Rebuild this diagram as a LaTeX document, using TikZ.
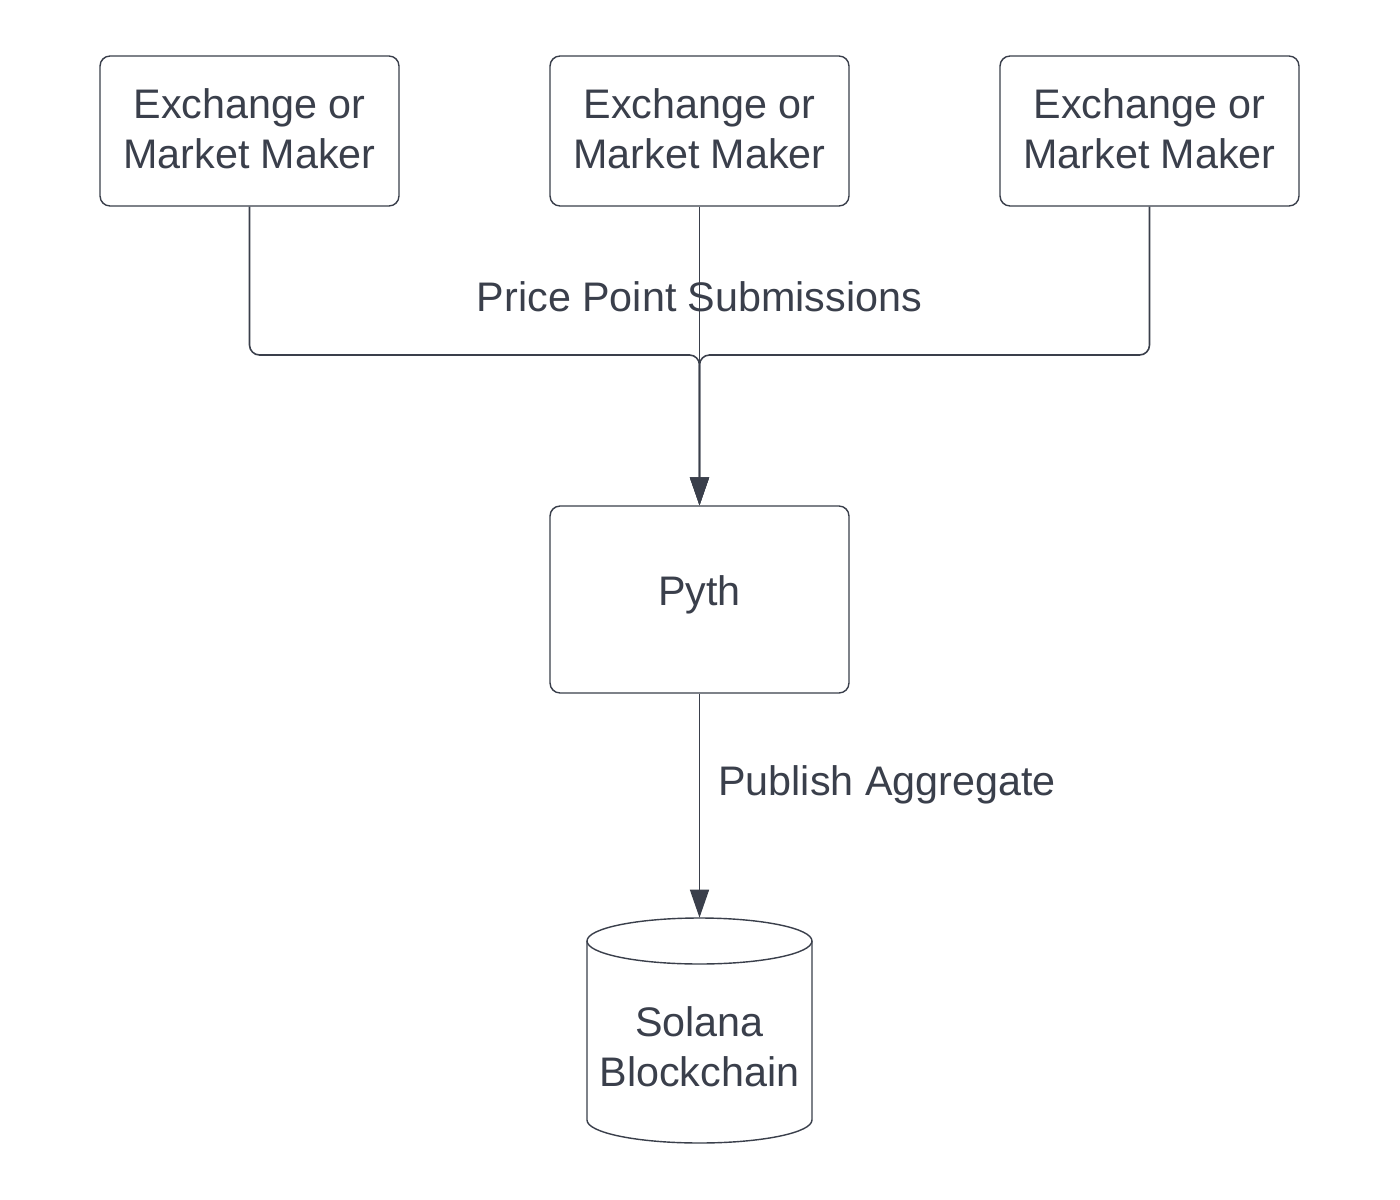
\documentclass[tikz,border=0pt]{standalone}
\usepackage{fontspec}
\setmainfont{Liberation Sans}
\usetikzlibrary{arrows.meta}
\definecolor{ink}{HTML}{3A3F4B}
\begin{document}
\begin{tikzpicture}[x=0.02cm,y=0.02cm,
  txt/.style={text=ink, font=\fontsize{23.5}{28.4}\selectfont, align=center, inner sep=0pt},
  box/.style={draw=ink, line width=0.8pt, rounded corners=0.2cm, minimum width=5.98cm},
  conn/.style={draw=ink, line width=0.9pt, rounded corners=0.2cm},
  tip/.style={-{Triangle[width=0.38cm,length=0.56cm]}}]
\useasboundingbox (0,0) rectangle (1400,-1200);
\fill[white] (0,0) rectangle (1400,-1200);
% boxes
\node[box, minimum height=3cm] (e1) at (249.5,-131) {};
\node[box, minimum height=3cm] (e2) at (699.5,-131) {};
\node[box, minimum height=3cm] (e3) at (1149.5,-131) {};
\node[box, minimum height=3.74cm] (pyth) at (699.5,-599.5) {};
\node[txt] (t1) at (249.5,-128.5) {Exchange or\\Market Maker};
\node[txt] (t2) at (699.5,-128.5) {Exchange or\\Market Maker};
\node[txt] (t3) at (1149.5,-128.5) {Exchange or\\Market Maker};
\node[txt] (tp) at (699.5,-595) {Pyth};
% cylinder
\node[minimum width=4.5cm, minimum height=4.5cm, inner sep=0pt] (sol) at (699.5,-1030.5) {};
\draw[ink, line width=0.8pt] (587,-941) -- (587,-1120)
  arc[start angle=180, end angle=360, x radius=2.25cm, y radius=0.46cm] -- (812,-941);
\draw[ink, line width=0.8pt] (699.5,-941) ellipse [x radius=2.25cm, y radius=0.46cm];
\node[txt] (soltxt) at (699.5,-1047) {Solana\\Blockchain};
% connectors
\coordinate (j) at (699.5,-355);
\draw[conn, tip] (e1.south) |- (j) -- (pyth.north);
\draw[conn, tip] (e3.south) |- (j) -- (pyth.north);
\draw[conn, tip] (e2.south) -- (pyth.north);
\draw[conn, tip] (pyth.south) -- (sol.north);
% labels
\node[txt] (lab1) at (699.5,-297) {Price Point Submissions};
\node[txt, anchor=west] (lab2) at (718,-785) {Publish Aggregate};
\end{tikzpicture}
\end{document}
